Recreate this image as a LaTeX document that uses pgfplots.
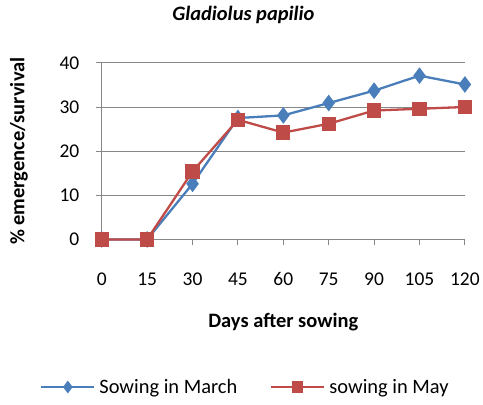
\documentclass[border=0pt]{standalone}
\usepackage{pgfplots}
\pgfplotsset{compat=1.18}
\usepackage{fontspec}
\setmainfont{Carlito}
\definecolor{mblue}{HTML}{4A7EBB}
\definecolor{mred}{HTML}{BE4B48}
\definecolor{gridg}{HTML}{878787}
\begin{document}
\begin{tikzpicture}[x=1pt,y=1pt]
\path (-102pt,-165pt) rectangle (381pt,240pt);
\begin{axis}[
  at={(0pt,0pt)}, anchor=south west,
  scale only axis, width=364pt, height=177pt,
  xmin=0, xmax=120, ymin=0, ymax=40,
  xtick={0,15,...,120}, ytick={0,10,...,40},
  font=\fontsize{19.5}{23}\selectfont,
  /pgf/number format/assume math mode=true,
  axis x line*=bottom, axis y line*=left,
  axis line style={gridg, line width=1pt, -},
  ymajorgrids, grid style={gridg, line width=1pt},
  major tick length=6pt,
  tick style={gridg, line width=1pt},
  xtick align=outside, ytick align=outside,
  xticklabel style={anchor=center, yshift=-34pt},
  yticklabel style={xshift=-13pt},
  clip=false,
  title={\textbf{\textit{Gladiolus papilio}}},
  title style={at={(axis description cs:0.39,1.235)}, anchor=center, font=\fontsize{20.5}{24}\selectfont},
  xlabel={\textbf{Days after sowing}},
  xlabel style={at={(axis description cs:0.5,-0.469)}, anchor=center, font=\fontsize{20.5}{24}\selectfont},
  ylabel={\textbf{\% emergence/survival}},
  ylabel style={at={(axis description cs:-0.228,0.5)}, anchor=center, rotate=0, font=\fontsize{20.5}{24}\selectfont},
  legend columns=2,
  legend style={at={(axis description cs:-0.170,-0.836)}, anchor=west, draw=none, fill=none,
     /tikz/column 1/.style={column sep=2pt},
     /tikz/column 2/.style={column sep=31pt},
     /tikz/column 3/.style={column sep=2pt},
     /tikz/column 4/.style={column sep=0pt},
     font=\fontsize{20.5}{24}\selectfont, inner sep=0pt},
  legend cell align=left,
  legend image code/.code={\draw[mark repeat=2,mark phase=2,mark size=4.5pt] plot coordinates {(0pt,0pt)(26.5pt,0pt)(53pt,0pt)};},
]
\addplot[mblue, line width=2.3pt, mark=diamond*, mark size=6.5pt, mark options={solid}] coordinates {
(0,0) (15,0) (30,12.6) (45,27.5) (60,28.1) (75,30.9) (90,33.7) (105,37.1) (120,35.1)};
\addlegendentry{Sowing in March}
\addplot[mred, line width=2.3pt, mark=square*, mark size=6pt, mark options={solid}] coordinates {
(0,0) (15,0) (30,15.4) (45,27.1) (60,24.2) (75,26.2) (90,29.2) (105,29.6) (120,30.0)};
\addlegendentry{sowing in May}
\end{axis}
\end{tikzpicture}
\end{document}
